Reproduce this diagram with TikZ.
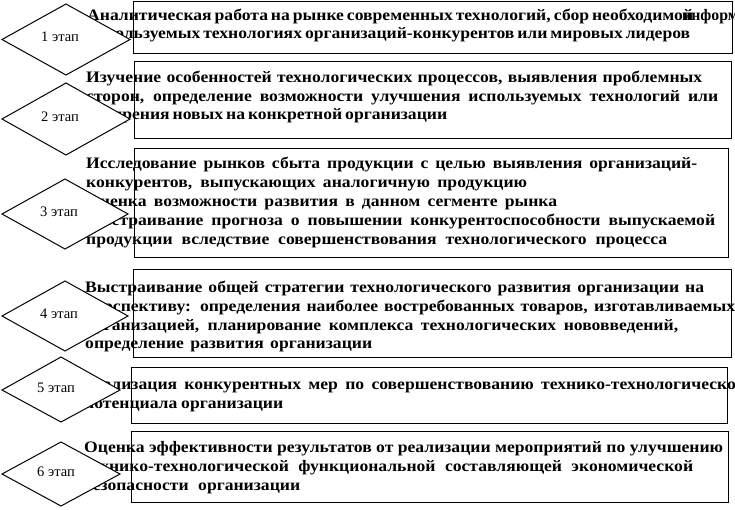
\documentclass[tikz,border=0pt]{standalone}
\usepackage{fontspec}
\usepackage{graphicx}
\setmainfont{Liberation Serif}
\newfontfamily\wideserif{Liberation Serif}[FakeStretch=1.10]
\newcommand\tlfont{\wideserif\fontsize{16}{18}\selectfont\bfseries}
\tikzset{
  box/.style={draw, line width=1pt, inner sep=0pt},
  stageshape/.style={draw, fill=white, line width=1pt, line join=miter},
  stagelabel/.style={inner sep=0pt, font=\fontsize{14.5}{16}\selectfont},
  tl/.style={anchor=base west, inner sep=0pt, font=\tlfont},
}
\newlength\natw
% name, x, baseline y, end x, text
\newcommand\tline[5]{%
  \settowidth\natw{\tlfont #5}%
  \pgfmathsetmacro\tw{#4-#2}%
  \ifdim\natw>\tw pt
    \pgfmathsetmacro\rt{\tw/\natw}%
    \node[tl] (#1) at (#2,#3) {\scalebox{\rt}[1]{#5}};
  \else
    \node[tl] (#1) at (#2,#3) {\hbox to \tw pt{#5}};
  \fi}
\begin{document}
\begin{tikzpicture}[x=1pt,y=-1pt]
\useasboundingbox (0,0) rectangle (735,509);
\clip (0,0) rectangle (735,509);
% text lines
\tline{t11}{87}{20}{676}{Аналитическая работа на рынке современных технологий, сбор необходимой}
\node[tl] (t11b) at (682,20) {\scalebox{0.9}[1]{информации об}};
\tline{t12}{87}{38}{690}{используемых технологиях организаций-конкурентов или мировых лидеров}
\tline{t21}{86}{82}{702}{Изучение особенностей технологических процессов, выявления проблемных}
\tline{t22}{86}{101}{718}{сторон, определение возможности улучшения используемых технологий или}
\tline{t23}{86}{119}{447}{внедрения новых на конкретной организации}
\tline{t31}{86}{168}{697}{Исследование рынков сбыта продукции с целью выявления организаций-}
\tline{t32}{86}{187}{527}{конкурентов, выпускающих аналогичную продукцию}
\tline{t33}{86}{206}{557}{Оценка возможности развития в данном сегменте рынка}
\tline{t34}{86}{225}{715}{Выстраивание прогноза о повышении конкурентоспособности выпускаемой}
\tline{t35}{86}{244}{667}{продукции вследствие совершенствования технологического процесса}
\tline{t41}{85}{292}{704}{Выстраивание общей стратегии технологического развития организации на}
\tline{t42}{85}{311}{735}{перспективу: определения наиболее востребованных товаров, изготавливаемых}
\tline{t43}{85}{330}{678}{организацией, планирование комплекса технологических нововведений,}
\tline{t44}{85}{348}{372}{определение развития организации}
\tline{t51}{84}{389}{752}{Реализация конкурентных мер по совершенствованию технико-технологического}
\tline{t52}{84}{408}{283}{потенциала организации}
\tline{t61}{84}{452}{723}{Оценка эффективности результатов от реализации мероприятий по улучшению}
\tline{t62}{84}{471}{693}{технико-технологической функциональной составляющей экономической}
\tline{t63}{84}{490}{300}{безопасности организации}
% stage diamonds
\draw[stageshape] (2,39.5) -- (66,4) -- (130,39.5) -- (66,75) -- cycle;
\draw[stageshape] (2,119) -- (66,83) -- (130,119) -- (66,155) -- cycle;
\draw[stageshape] (2,214) -- (65,179) -- (128,214) -- (65,249) -- cycle;
\draw[stageshape] (2,316) -- (65,281) -- (128,316) -- (65,351) -- cycle;
\draw[stageshape] (2,390) -- (61,357) -- (120,390) -- (61,422) -- cycle;
\draw[stageshape] (2,474) -- (61,442) -- (120,474) -- (61,506) -- cycle;
\node[stagelabel] (d1) at (60,37) {1 этап};
\node[stagelabel] (d2) at (60,117) {2 этап};
\node[stagelabel] (d3) at (59,212) {3 этап};
\node[stagelabel] (d4) at (59,314) {4 этап};
\node[stagelabel] (d5) at (56,388) {5 этап};
\node[stagelabel] (d6) at (56,472) {6 этап};
% boxes
\node[box, minimum width=599pt, minimum height=52pt] (r1) at (432.5,27) {};
\node[box, minimum width=597pt, minimum height=77pt] (r2) at (432.5,99.5) {};
\node[box, minimum width=594pt, minimum height=109pt] (r3) at (431,202.5) {};
\node[box, minimum width=598pt, minimum height=88pt] (r4) at (432,313) {};
\node[box, minimum width=596pt, minimum height=56pt] (r5) at (429,395) {};
\node[box, minimum width=597pt, minimum height=71pt] (r6) at (429.5,466.5) {};
\end{tikzpicture}
\end{document}
